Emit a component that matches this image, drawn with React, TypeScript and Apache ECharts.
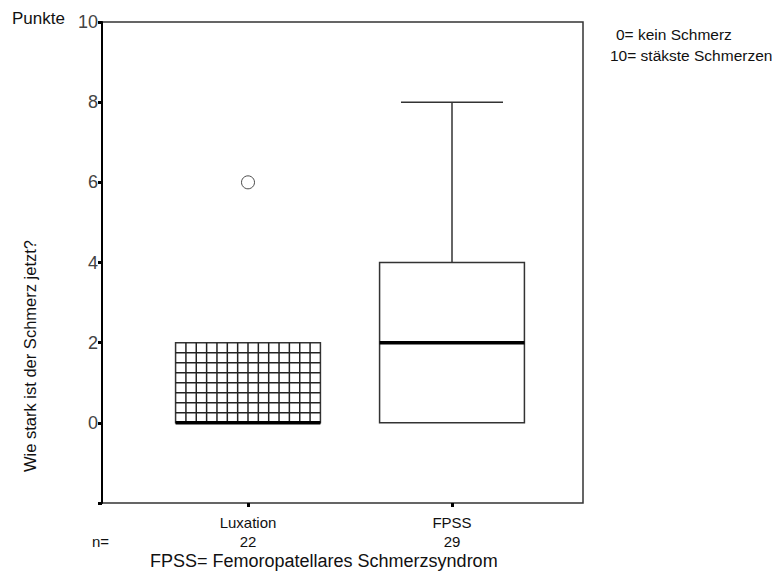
import React, { useEffect, useRef } from 'react';
import * as echarts from 'echarts';

const categories = ['Luxation', 'FPSS'];
const counts = [22, 29];
// [min, Q1, median, Q3, max] per category
const boxStats = [
  [0, 0, 0, 2, 2],
  [0, 0, 2, 4, 8],
];
// [categoryIndex, value]
const outliers = [[0, 6]];
const yMin = -2;
const yMax = 10;
const yStep = 2;
const yTitle = 'Wie stark ist der Schmerz jetzt?';
const yUnit = 'Punkte';
const legendLines = ['0= kein Schmerz', '10= stäkste Schmerzen'];
const footnote = 'FPSS= Femoropatellares Schmerzsyndrom';

const FONT = '"Liberation Sans", Arial, sans-serif';

export default function App() {
  const ref = useRef<HTMLDivElement>(null);
  useEffect(() => {
    if (!ref.current) return;
    const chart = echarts.init(ref.current, undefined, { renderer: 'svg' });
    const option: any = {
      animation: false,
      backgroundColor: '#fff',
      grid: [
        { left: 102, top: 22, width: 481, height: 481, show: true, borderColor: '#333', borderWidth: 1.5, backgroundColor: 'transparent' },
        { left: 146, top: 22, width: 408, height: 481 },
      ],
      xAxis: [
        { gridIndex: 0, type: 'value', min: 0, max: 1, show: false },
        {
          gridIndex: 1,
          type: 'category',
          data: categories,
          boundaryGap: true,
          axisLine: { show: false, onZero: false },
          axisTick: { show: true, alignWithLabel: true, length: 4, lineStyle: { color: '#000', width: 3 } },
          axisLabel: {
            margin: 10,
            formatter: (v: string, i: number) => `{a|${v}}\n{b|${counts[i]}}`,
            rich: {
              a: { fontSize: 15, fontFamily: FONT, color: '#111', lineHeight: 19 },
              b: { fontSize: 15, fontFamily: FONT, color: '#111', lineHeight: 19 },
            },
          },
          splitLine: { show: false },
        },
      ],
      yAxis: [
        {
          gridIndex: 0,
          type: 'value',
          min: yMin,
          max: yMax,
          interval: yStep,
          axisLine: { show: true, lineStyle: { color: '#000', width: 2 } },
          axisTick: { show: true, length: 4, lineStyle: { color: '#000', width: 3 } },
          axisLabel: {
            margin: 4,
            fontSize: 18,
            fontFamily: FONT,
            color: '#444',
            formatter: (v: number) => (v === yMin ? '' : String(v)),
          },
          splitLine: { show: false },
        },
        { gridIndex: 1, type: 'value', min: yMin, max: yMax, show: false, splitLine: { show: false } },
      ],
      series: [
        {
          type: 'custom',
          xAxisIndex: 1,
          yAxisIndex: 1,
          data: boxStats.map((s, i) => [i, ...s]),
          encode: { x: 0, y: [1, 2, 3, 4, 5] },
          renderItem: (params: any, api: any) => {
            const idx = api.value(0);
            const mn = api.value(1);
            const q1 = api.value(2);
            const med = api.value(3);
            const q3 = api.value(4);
            const mx = api.value(5);
            const cx = api.coord([idx, 0])[0];
            const band = api.size([1, 0])[0];
            const hw = band * 0.355;
            const cw = band * 0.25;
            const y = (v: number) => api.coord([idx, v])[1];
            const left = cx - hw;
            const right = cx + hw;
            const top = y(q3);
            const bottom = y(q1);
            const stroke = '#333';
            const children: any[] = [];
            if (mx > q3) {
              children.push({ type: 'line', shape: { x1: cx, y1: top, x2: cx, y2: y(mx) }, style: { stroke, lineWidth: 1.5 } });
              children.push({ type: 'line', shape: { x1: cx - cw, y1: y(mx), x2: cx + cw, y2: y(mx) }, style: { stroke, lineWidth: 1.5 } });
            }
            if (mn < q1) {
              children.push({ type: 'line', shape: { x1: cx, y1: bottom, x2: cx, y2: y(mn) }, style: { stroke, lineWidth: 1.5 } });
              children.push({ type: 'line', shape: { x1: cx - cw, y1: y(mn), x2: cx + cw, y2: y(mn) }, style: { stroke, lineWidth: 1.5 } });
            }
            children.push({
              type: 'rect',
              shape: { x: left, y: top, width: right - left, height: bottom - top },
              style: { fill: '#fff', stroke, lineWidth: 1.5 },
            });
            if (params.dataIndex === 0) {
              const w = right - left;
              const h = bottom - top;
              const nCols = Math.max(1, Math.round(w / 10.4));
              const nRows = Math.max(1, Math.round(h / 10));
              for (let c = 1; c < nCols; c++) {
                const xx = left + (w * c) / nCols;
                children.push({ type: 'line', shape: { x1: xx, y1: top, x2: xx, y2: bottom }, style: { stroke: '#222', lineWidth: 1.5 } });
              }
              for (let r = 1; r < nRows; r++) {
                const yy = top + (h * r) / nRows;
                children.push({ type: 'line', shape: { x1: left, y1: yy, x2: right, y2: yy }, style: { stroke: '#222', lineWidth: 1.5 } });
              }
            }
            children.push({
              type: 'line',
              shape: { x1: left, y1: y(med), x2: right, y2: y(med) },
              style: { stroke: '#000', lineWidth: 3.5 },
            });
            return { type: 'group', children };
          },
        },
        {
          type: 'scatter',
          xAxisIndex: 1,
          yAxisIndex: 1,
          data: outliers,
          symbol: 'circle',
          symbolSize: 13,
          itemStyle: { color: '#fff', borderColor: '#222', borderWidth: 1 },
          z: 5,
        },
      ],
      graphic: [
        { type: 'text', x: 12, y: 18, style: { text: yUnit, font: `17px ${FONT}`, fill: '#111', align: 'left', verticalAlign: 'middle' } },
        { type: 'text', x: 30, y: 356, rotation: Math.PI / 2, style: { text: yTitle, font: `16.5px ${FONT}`, fill: '#111', align: 'center', verticalAlign: 'middle' } },
        { type: 'text', x: 616, y: 34, style: { text: legendLines[0], font: `15.5px ${FONT}`, fill: '#111', align: 'left', verticalAlign: 'middle' } },
        { type: 'text', x: 610, y: 55, style: { text: legendLines[1], font: `15.5px ${FONT}`, fill: '#111', align: 'left', verticalAlign: 'middle' } },
        { type: 'text', x: 92, y: 541, style: { text: 'n=', font: `15px ${FONT}`, fill: '#111', align: 'left', verticalAlign: 'middle' } },
        { type: 'text', x: 150, y: 561, style: { text: footnote, font: `18px ${FONT}`, fill: '#111', align: 'left', verticalAlign: 'middle' } },
      ],
    };
    chart.setOption(option);
    return () => chart.dispose();
  }, []);
  return <div ref={ref} style={{ position: 'fixed', left: 0, top: 0, width: 777, height: 579 }} />;
}
